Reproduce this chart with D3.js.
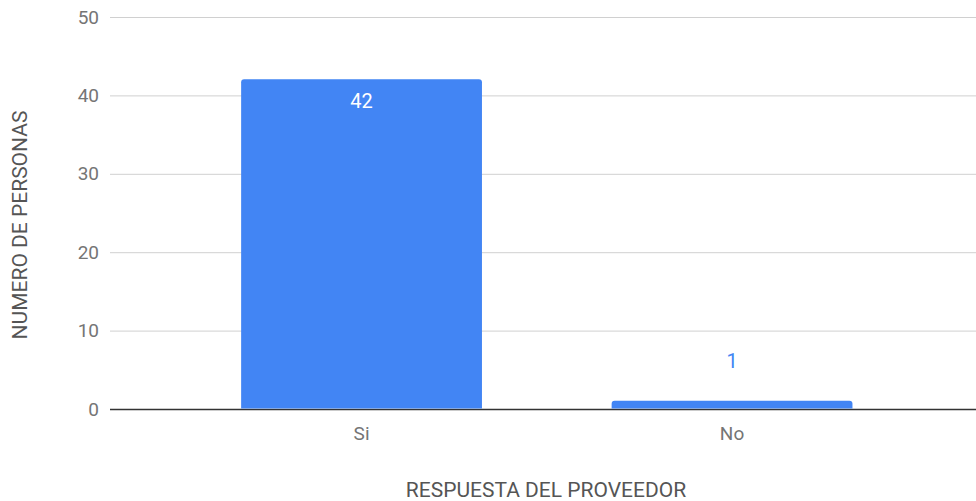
<!DOCTYPE html>
<html>
<head>
<meta charset="utf-8">
<script src="https://cdn.jsdelivr.net/npm/d3@7"></script>
<style>
  html, body { margin: 0; padding: 0; background: #fff; }
  svg { display: block; font-family: Roboto, "Noto Sans", sans-serif; }
</style>
</head>
<body>
<svg id="chart" width="976" height="501"></svg>
<script>
// Survey answers: number of people per supplier response
const categories = ["Si", "No"];
const values = [42, 1];
const yTicks = [0, 10, 20, 30, 40, 50];
const xTitle = "RESPUESTA DEL PROVEEDOR";
const yTitle = "NUMERO DE PERSONAS";

const svg = d3.select("#chart");
const plotLeft = 110, plotRight = 976;

const y = d3.scaleLinear().domain([0, 50]).range([408.5, 16.5]);
const x = d3.scaleBand().domain(categories)
  .range([176.3, 917.3]).paddingInner(0.35).paddingOuter(0.175);

// Horizontal gridlines and tick labels
const yAxis = d3.axisLeft(y).tickValues(yTicks).tickSize(0).tickPadding(0);
const gy = svg.append("g").call(yAxis);
gy.select(".domain").remove();
gy.selectAll(".tick line").remove();
gy.selectAll(".tick").each(function(d) {
  const t = d3.select(this);
  t.insert("line", "text")
    .attr("x1", plotLeft).attr("x2", plotRight)
    .attr("y1", 0.5).attr("y2", 0.5)
    .attr("stroke", d === 0 ? "#333" : "#d0d0d0")
    .attr("stroke-width", d === 0 ? 1.5 : 1);
  t.select("text")
    .attr("x", 99).attr("dy", "0.35em")
    .attr("text-anchor", "end")
    .attr("fill", "#757575")
    .style("font-size", "19px")
    .style("font-family", "Roboto, sans-serif");
});

// Bars with slightly rounded tops
const r = 3;
svg.append("g").selectAll("path").data(values).join("path")
  .attr("fill", "#4285f4")
  .attr("d", (v, i) => {
    const x0 = x(categories[i]), w = x.bandwidth();
    const y0 = y(v), y1 = y(0);
    return `M${x0},${y1} L${x0},${y0 + r} Q${x0},${y0} ${x0 + r},${y0} ` +
      `L${x0 + w - r},${y0} Q${x0 + w},${y0} ${x0 + w},${y0 + r} L${x0 + w},${y1} Z`;
  });

// Value labels: inside tall bars, above short ones
svg.append("g").selectAll("text").data(values).join("text")
  .attr("x", (v, i) => x(categories[i]) + x.bandwidth() / 2)
  .attr("y", v => (y(0) - y(v) > 40 ? y(v) + 22 : y(v) - 40))
  .attr("dy", "0.35em")
  .attr("text-anchor", "middle")
  .attr("fill", v => (y(0) - y(v) > 40 ? "#ffffff" : "#4285f4"))
  .style("font-size", "20px")
  .text(v => v);

// Category labels
const xAxis = d3.axisBottom(x).tickSize(0).tickPadding(0);
const gx = svg.append("g").attr("transform", "translate(0,433)").call(xAxis);
gx.select(".domain").remove();
gx.selectAll(".tick text")
  .attr("y", 0).attr("dy", "0.35em")
  .attr("fill", "#757575")
  .style("font-size", "19px")
  .style("font-family", "Roboto, sans-serif");

// Axis titles
svg.append("text")
  .attr("x", 546).attr("y", 490)
  .attr("dy", "0.35em")
  .attr("text-anchor", "middle")
  .attr("fill", "#555")
  .style("font-size", "21px")
  .text(xTitle);

svg.append("text")
  .attr("transform", "translate(20,225) rotate(-90)")
  .attr("text-anchor", "middle")
  .attr("dy", "0.35em")
  .attr("fill", "#555")
  .style("font-size", "21px")
  .text(yTitle);
</script>
</body>
</html>
